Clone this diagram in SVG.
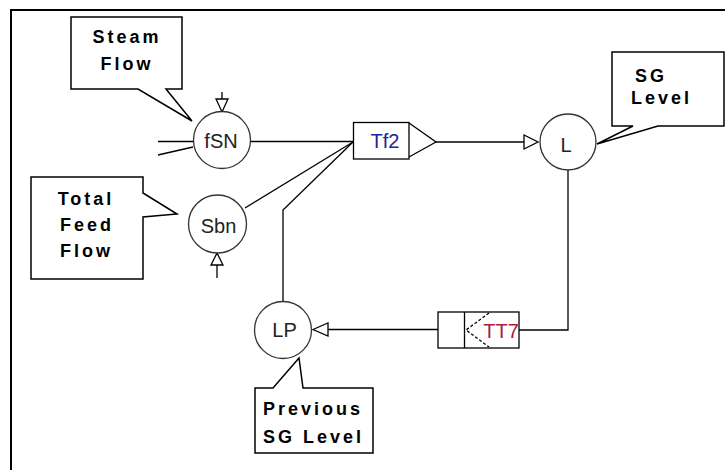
<svg xmlns="http://www.w3.org/2000/svg" width="725" height="470" viewBox="0 0 725 470">
<style>
.frame{fill:none;stroke:#000;stroke-width:2}
.node{fill:#fff;stroke:#333;stroke-width:1.3}
.lbl{font-family:"Liberation Sans",Arial,sans-serif;font-size:20px;fill:#222;text-anchor:middle}
.call{fill:#fff;stroke:#000;stroke-width:1.5;stroke-linejoin:miter}
.ct{font-family:"Liberation Sans",Arial,sans-serif;font-size:18px;font-weight:bold;letter-spacing:3px;fill:#000}
.wire{fill:none;stroke:#000;stroke-width:1.3}
.arr{fill:#fff;stroke:#000;stroke-width:1.3}
</style>
<rect width="725" height="470" fill="#fff"/>
<path class="frame" d="M11,470 V10 H725"/>

<g id="connectors">
<line class="wire" x1="158" y1="141.5" x2="193" y2="141.5"/>
<line class="wire" x1="158" y1="155" x2="193" y2="147"/>
<line class="wire" x1="251" y1="141.5" x2="353" y2="141.5"/>
<line class="wire" x1="245" y1="208" x2="353" y2="142"/>
<polyline class="wire" points="283,303 283,210 353,142"/>
<line class="wire" x1="436" y1="142" x2="524" y2="142"/>
<polygon class="arr" points="524,135 524,149 538,142"/>
<line class="wire" x1="222" y1="92" x2="222" y2="99"/>
<polygon class="arr" points="216,99 228,99 222,112"/>
<polygon class="arr" points="217,253 211,265 223,265"/>
<line class="wire" x1="217" y1="265" x2="217" y2="278"/>
<polyline class="wire" points="568,170 568,330 519,330"/>
<line class="wire" x1="328" y1="329.5" x2="438" y2="329.5"/>
<polygon class="arr" points="313,329.5 328,323 328,336"/>
</g>

<g id="node-fSN">
<circle class="node" cx="222" cy="140" r="28.5"/>
<text class="lbl" x="221" y="148">fSN</text>
</g>
<g id="node-Sbn">
<circle class="node" cx="217.5" cy="224" r="29"/>
<text class="lbl" x="218.5" y="233">Sbn</text>
</g>
<g id="node-Tf2">
<rect x="353.5" y="122.5" width="55.5" height="36.5" fill="#fff" stroke="#000" stroke-width="1.3"/>
<polyline class="wire" points="409,123 436,142 409,157"/>
<text class="lbl" x="385" y="148" style="fill:#22229a">Tf2</text>
</g>
<g id="node-L">
<circle class="node" cx="568" cy="142" r="28"/>
<text class="lbl" x="566" y="152">L</text>
</g>
<g id="node-TT7">
<rect x="438" y="312" width="81" height="36" fill="#fff" stroke="#000" stroke-width="1.3"/>
<line class="wire" x1="464.5" y1="312" x2="464.5" y2="348"/>
<polyline class="wire" points="489,313 466,330 489,347" stroke-dasharray="3,2"/>
<text class="lbl" x="501" y="338" style="fill:#a8203c">TT7</text>
</g>
<g id="node-LP">
<circle class="node" cx="283" cy="330" r="28.5"/>
<text class="lbl" x="284.5" y="337">LP</text>
</g>

<g id="callout-steam">
<path class="call" d="M71,17 H182 V89 H166 L192,121 L138,89 H71 Z"/>
<text class="ct" x="127" y="43" text-anchor="middle">Steam</text>
<text class="ct" x="127" y="70" text-anchor="middle">Flow</text>
</g>
<g id="callout-feed">
<path class="call" d="M31,177 H143 V193 L177,214 L143,217 V279 H31 Z"/>
<text class="ct" x="86" y="205" text-anchor="middle">Total</text>
<text class="ct" x="87" y="231" text-anchor="middle">Feed</text>
<text class="ct" x="86.5" y="257" text-anchor="middle">Flow</text>
</g>
<g id="callout-sg">
<path class="call" d="M612,52 H724 V126 H658 L597,144 L633,126 H612 Z"/>
<text class="ct" x="651" y="82" text-anchor="middle">SG</text>
<text class="ct" x="661.5" y="104" text-anchor="middle">Level</text>
</g>
<g id="callout-prev">
<path class="call" d="M255,388 H273 L299,358 L303,388 H373 V453 H255 Z"/>
<text class="ct" x="263" y="415">Previous</text>
<text class="ct" x="263" y="443">SG Level</text>
</g>
</svg>
